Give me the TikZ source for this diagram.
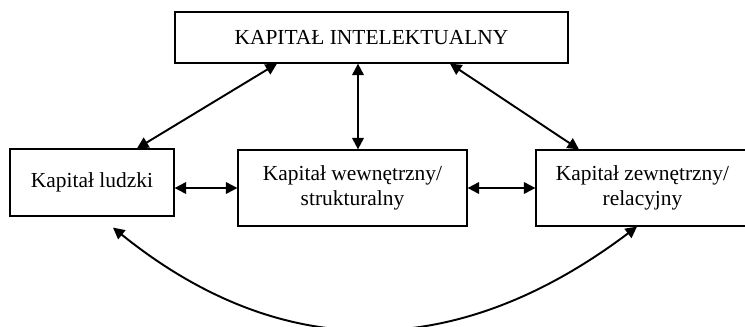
\documentclass[tikz,border=0pt]{standalone}
\usepackage{fontspec}
\setmainfont{Liberation Serif}
\usetikzlibrary{arrows.meta}

\begin{document}
\begin{tikzpicture}[x=.02cm,y=-.02cm,>={Triangle[length=6.5pt,width=6.5pt]},
    box/.style={draw,line width=.7pt,inner sep=0pt,align=center,font=\fontsize{12.2}{14.6}\selectfont},
    link/.style={<->,line width=1.1pt}]
  \useasboundingbox (0,0) rectangle (745,326);

  \node[box,minimum width=7.86cm,minimum height=1.02cm] (kapital) at (371.5,37.5) {KAPITAŁ INTELEKTUALNY};
  \node[box,minimum width=3.28cm,minimum height=1.34cm] (ludzki) at (92,182.5) {Kapitał ludzki};
  \node[box,minimum width=4.58cm,minimum height=1.52cm] (wewn) at (352.5,188) {Kapitał wewnętrzny/\\strukturalny};
  \node[box,minimum width=4.26cm,minimum height=1.52cm] (zewn) at (642.5,188) {Kapitał zewnętrzny/\\relacyjny};

  \draw[link] ([xshift=-1.89cm]kapital.south) -- ([xshift=.9cm]ludzki.north);
  \draw[link] ([xshift=-.27cm]kapital.south) -- ([xshift=.11cm]wewn.north);
  \draw[link] ([xshift=1.57cm]kapital.south) -- ([xshift=-1.27cm]zewn.north);
  \draw[link] (ludzki.east |- wewn.west) -- (wewn.west);
  \draw[link] (wewn.east) -- (zewn.west);
  \draw[link] ([xshift=.42cm,yshift=-.22cm]ludzki.south)
    .. controls (281,363) and (456,363) .. ([xshift=-.11cm]zewn.south);
\end{tikzpicture}
\end{document}
